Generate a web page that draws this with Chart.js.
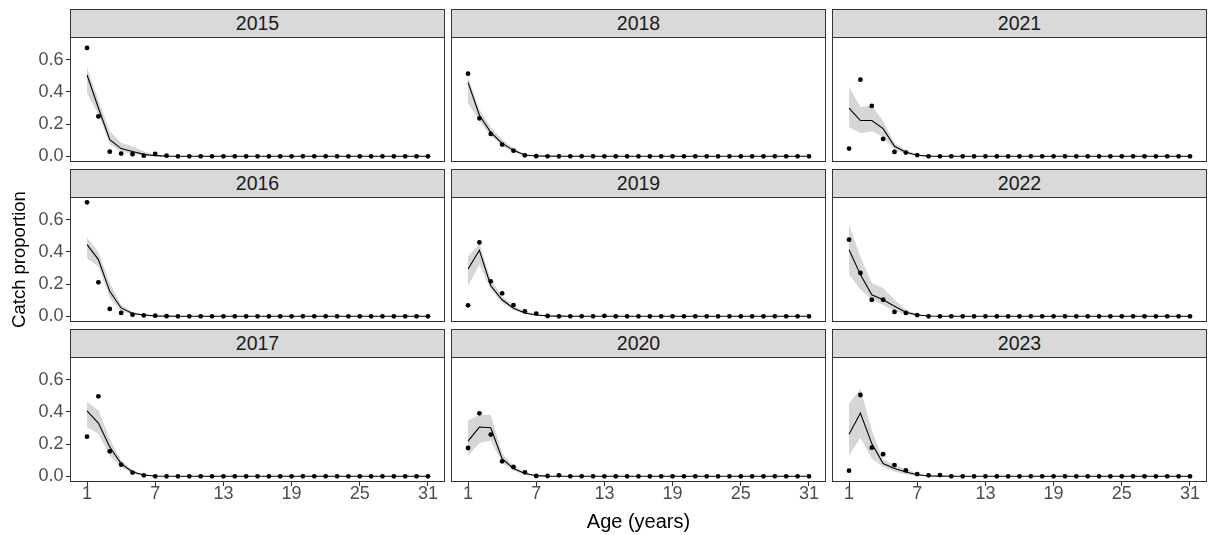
<!DOCTYPE html>
<html><head><meta charset="utf-8">
<script src="https://cdn.jsdelivr.net/npm/chart.js@4/dist/chart.umd.min.js"></script>
<style>
html,body{margin:0;padding:0;background:#fff;width:1208px;height:535px;overflow:hidden;}
#wrap{position:relative;width:1208px;height:535px;font-family:"Liberation Sans",Arial,sans-serif;}
.strip{position:absolute;box-sizing:border-box;border:1px solid #333;background:#d9d9d9;color:#1a1a1a;font-size:19.5px;text-align:center;line-height:27px;}
canvas{position:absolute;}
</style></head><body><div id="wrap"></div>
<script>
// ---------- data ----------
const ages = [1,2,3,4,5,6,7,8,9,10,11,12,13,14,15,16,17,18,19,20,21,22,23,24,25,26,27,28,29,30,31];
const xTicks = [1,7,13,19,25,31];
const yTicks = [0,0.2,0.4,0.6];
const years = ['2015','2018','2021','2016','2019','2022','2017','2020','2023'];

const obs2015 = [0.673,0.248,0.029,0.017,0.013,0.004,0.015,0.004,0,0, 0,0,0,0,0, 0,0,0,0,0, 0,0,0,0,0, 0,0,0,0,0, 0];
const fit2015 = [0.505,0.300,0.104,0.048,0.030,0.012,0.004,0.001,0,0, 0,0,0,0,0, 0,0,0,0,0, 0,0,0,0,0, 0,0,0,0,0, 0];
const lo2015  = [0.390,0.260,0.075,0.028,0.015,0.005,0.001,0,0,0, 0,0,0,0,0, 0,0,0,0,0, 0,0,0,0,0, 0,0,0,0,0, 0];
const hi2015  = [0.553,0.350,0.155,0.085,0.062,0.030,0.010,0.003,0.001,0, 0,0,0,0,0, 0,0,0,0,0, 0,0,0,0,0, 0,0,0,0,0, 0];

const obs2018 = [0.513,0.236,0.139,0.073,0.035,0.006,0.001,0,0,0, 0,0,0,0,0, 0,0,0,0,0, 0,0,0,0,0, 0,0,0,0,0, 0];
const fit2018 = [0.459,0.255,0.149,0.080,0.037,0.008,0.002,0.001,0,0, 0,0,0,0,0, 0,0,0,0,0, 0,0,0,0,0, 0,0,0,0,0, 0];
const lo2018  = [0.330,0.220,0.125,0.065,0.025,0.004,0.001,0,0,0, 0,0,0,0,0, 0,0,0,0,0, 0,0,0,0,0, 0,0,0,0,0, 0];
const hi2018  = [0.490,0.290,0.180,0.105,0.050,0.012,0.003,0.001,0,0, 0,0,0,0,0, 0,0,0,0,0, 0,0,0,0,0, 0,0,0,0,0, 0];

const obs2021 = [0.048,0.476,0.313,0.108,0.027,0.023,0.008,0,0,0, 0,0,0,0,0, 0,0,0,0,0, 0,0,0,0,0, 0,0,0,0,0, 0];
const fit2021 = [0.300,0.222,0.222,0.172,0.062,0.025,0.007,0.001,0,0, 0,0,0,0,0, 0,0,0,0,0, 0,0,0,0,0, 0,0,0,0,0, 0];
const lo2021  = [0.180,0.145,0.155,0.120,0.041,0.015,0.003,0.001,0,0, 0,0,0,0,0, 0,0,0,0,0, 0,0,0,0,0, 0,0,0,0,0, 0];
const hi2021  = [0.434,0.306,0.316,0.217,0.083,0.040,0.012,0.003,0.001,0, 0,0,0,0,0, 0,0,0,0,0, 0,0,0,0,0, 0,0,0,0,0, 0];

const obs2016 = [0.708,0.211,0.046,0.021,0.010,0.006,0.004,0.001,0,0, 0,0,0,0,0, 0,0,0,0,0, 0,0,0,0,0, 0,0,0,0,0, 0];
const fit2016 = [0.445,0.352,0.155,0.052,0.017,0.008,0.003,0.001,0,0, 0,0,0,0,0, 0,0,0,0,0, 0,0,0,0,0, 0,0,0,0,0, 0];
const lo2016  = [0.360,0.310,0.114,0.031,0.010,0.004,0.001,0,0,0, 0,0,0,0,0, 0,0,0,0,0, 0,0,0,0,0, 0,0,0,0,0, 0];
const hi2016  = [0.490,0.400,0.207,0.072,0.028,0.012,0.005,0.001,0,0, 0,0,0,0,0, 0,0,0,0,0, 0,0,0,0,0, 0,0,0,0,0, 0];

const obs2019 = [0.068,0.459,0.217,0.143,0.070,0.031,0.017,0.002,0,0, 0,0,0.003,0,0, 0,0,0,0,0, 0,0,0,0,0, 0,0,0,0,0, 0];
const fit2019 = [0.294,0.410,0.190,0.103,0.050,0.021,0.008,0.003,0.001,0, 0,0,0,0,0, 0,0,0,0,0, 0,0,0,0,0, 0,0,0,0,0, 0];
const lo2019  = [0.190,0.320,0.166,0.085,0.040,0.015,0.005,0.001,0,0, 0,0,0,0,0, 0,0,0,0,0, 0,0,0,0,0, 0,0,0,0,0, 0];
const hi2019  = [0.372,0.451,0.228,0.125,0.065,0.030,0.012,0.004,0.001,0, 0,0,0,0,0, 0,0,0,0,0, 0,0,0,0,0, 0,0,0,0,0, 0];

const obs2022 = [0.476,0.269,0.103,0.103,0.027,0.021,0.008,0,0,0, 0,0,0,0,0, 0,0,0,0,0, 0,0,0,0,0, 0,0,0,0,0, 0];
const fit2022 = [0.414,0.259,0.134,0.103,0.062,0.025,0.008,0.002,0,0, 0,0,0,0,0, 0,0,0,0,0, 0,0,0,0,0, 0,0,0,0,0, 0];
const lo2022  = [0.259,0.166,0.103,0.072,0.031,0.012,0.003,0.001,0,0, 0,0,0,0,0, 0,0,0,0,0, 0,0,0,0,0, 0,0,0,0,0, 0];
const hi2022  = [0.569,0.372,0.207,0.176,0.103,0.041,0.015,0.004,0.001,0, 0,0,0,0,0, 0,0,0,0,0, 0,0,0,0,0, 0,0,0,0,0, 0];

const obs2017 = [0.246,0.497,0.155,0.072,0.023,0.006,0,0,0,0, 0,0,0,0,0, 0,0,0,0,0, 0,0,0,0,0, 0,0,0,0,0, 0];
const fit2017 = [0.406,0.331,0.182,0.079,0.027,0.008,0.002,0,0,0, 0,0,0,0,0, 0,0,0,0,0, 0,0,0,0,0, 0,0,0,0,0, 0];
const lo2017  = [0.306,0.265,0.130,0.058,0.018,0.004,0.001,0,0,0, 0,0,0,0,0, 0,0,0,0,0, 0,0,0,0,0, 0,0,0,0,0, 0];
const hi2017  = [0.461,0.410,0.234,0.100,0.040,0.013,0.003,0.001,0,0, 0,0,0,0,0, 0,0,0,0,0, 0,0,0,0,0, 0,0,0,0,0, 0];

const obs2020 = [0.176,0.391,0.259,0.093,0.058,0.025,0.002,0.002,0.006,0, 0,0,0,0,0, 0,0,0,0,0, 0,0,0,0,0, 0,0,0,0,0, 0];
const fit2020 = [0.219,0.306,0.302,0.110,0.048,0.017,0.004,0.001,0,0, 0,0,0,0,0, 0,0,0,0,0, 0,0,0,0,0, 0,0,0,0,0, 0];
const lo2020  = [0.130,0.207,0.223,0.083,0.035,0.010,0.002,0,0,0, 0,0,0,0,0, 0,0,0,0,0, 0,0,0,0,0, 0,0,0,0,0, 0];
const hi2020  = [0.348,0.379,0.383,0.141,0.065,0.025,0.007,0.002,0,0, 0,0,0,0,0, 0,0,0,0,0, 0,0,0,0,0, 0,0,0,0,0, 0];

const obs2023 = [0.035,0.505,0.178,0.137,0.070,0.037,0.014,0.006,0.008,0, 0,0,0,0,0, 0,0,0,0,0, 0,0,0,0,0, 0,0,0,0,0, 0];
const fit2023 = [0.261,0.393,0.203,0.079,0.048,0.027,0.010,0.002,0.001,0, 0,0,0,0,0, 0,0,0,0,0, 0,0,0,0,0, 0,0,0,0,0, 0];
const lo2023  = [0.130,0.240,0.110,0.058,0.030,0.012,0.004,0.001,0,0, 0,0,0,0,0, 0,0,0,0,0, 0,0,0,0,0, 0,0,0,0,0, 0];
const hi2023  = [0.451,0.544,0.286,0.103,0.070,0.045,0.018,0.005,0.001,0, 0,0,0,0,0, 0,0,0,0,0, 0,0,0,0,0, 0,0,0,0,0, 0];

const series = {
  '2015':[obs2015,fit2015,lo2015,hi2015], '2018':[obs2018,fit2018,lo2018,hi2018], '2021':[obs2021,fit2021,lo2021,hi2021],
  '2016':[obs2016,fit2016,lo2016,hi2016], '2019':[obs2019,fit2019,lo2019,hi2019], '2022':[obs2022,fit2022,lo2022,hi2022],
  '2017':[obs2017,fit2017,lo2017,hi2017], '2020':[obs2020,fit2020,lo2020,hi2020], '2023':[obs2023,fit2023,lo2023,hi2023]
};

// ---------- layout ----------
const FONT = '"Liberation Sans", Arial, sans-serif';
Chart.defaults.font.family = FONT;
const colLeft = [70, 451, 832];
const rowTop = [37, 197, 357];
const PW = 375, PH = 125, SH = 28, H = 535, PADV = 16;
const Y_MIN = -0.0353, Y_MAX = 0.741;

const panelBorder = {
  id: 'panelBorder',
  afterDraw(chart) {
    const a = chart.chartArea, ctx = chart.ctx;
    ctx.save();
    ctx.strokeStyle = '#333333'; ctx.lineWidth = 1;
    ctx.strokeRect(Math.round(a.left) + 0.5, Math.round(a.top) + 0.5,
                   Math.round(a.right - a.left) - 1, Math.round(a.bottom - a.top) - 1);
    ctx.restore();
  }
};

const wrap = document.getElementById('wrap');
const pts = arr => ages.map((a, i) => ({x: a, y: arr[i]}));

years.forEach((yr, idx) => {
  const r = Math.floor(idx / 3), c = idx % 3;
  const [obs, fit, lo, hi] = series[yr];

  const cv = document.createElement('canvas');
  const left = c === 0 ? 0 : colLeft[c];
  const width = c === 0 ? colLeft[0] + PW : PW;
  const top = rowTop[r] - PADV;
  const height = r === 2 ? H - top : PH + 2 * PADV;
  cv.width = width; cv.height = height;
  cv.style.left = left + 'px'; cv.style.top = top + 'px';
  cv.style.width = width + 'px'; cv.style.height = height + 'px';
  wrap.appendChild(cv);

  const strip = document.createElement('div');
  strip.className = 'strip';
  strip.style.left = colLeft[c] + 'px';
  strip.style.top = (rowTop[r] - SH) + 'px';
  strip.style.width = PW + 'px';
  strip.style.height = (SH + 1) + 'px';
  strip.textContent = yr;
  wrap.appendChild(strip);

  new Chart(cv, {
    type: 'line',
    data: {
      datasets: [
        {label: 'upper', data: pts(hi), borderWidth: 0, pointRadius: 0, fill: false, order: 3},
        {label: 'lower', data: pts(lo), borderWidth: 0, pointRadius: 0, fill: '-1',
         backgroundColor: 'rgba(51,51,51,0.2)', order: 2},
        {label: 'fit', data: pts(fit), borderColor: '#000', borderWidth: 1.1, pointRadius: 0,
         fill: false, tension: 0, order: 1},
        {label: 'obs', data: pts(obs), showLine: false, pointRadius: 2.4, pointBorderWidth: 0,
         pointBackgroundColor: '#000', borderColor: '#000', order: 0}
      ]
    },
    options: {
      responsive: false, animation: false, events: [],
      layout: {autoPadding: false, padding: {top: PADV, left: 0, right: 0, bottom: r === 2 ? 0 : PADV}},
      plugins: {legend: {display: false}, tooltip: {enabled: false},
                filler: {propagate: false, drawTime: 'beforeDatasetsDraw'}},
      scales: {
        x: {
          type: 'linear', min: -0.5, max: 32.5,
          display: r === 2,
          afterBuildTicks: s => { s.ticks = xTicks.map(v => ({value: v})); },
          afterFit: s => { if (r === 2) s.height = H - rowTop[2] - PH; s.paddingLeft = 0; s.paddingRight = 0; },
          grid: {display: true, drawOnChartArea: false, drawTicks: true, tickLength: 4, color: '#333333'},
          border: {display: false},
          ticks: {display: r === 2, autoSkip: false, maxRotation: 0, padding: -1, color: '#4d4d4d',
                  font: {size: 18, lineHeight: 1, family: FONT}, callback: v => String(v)},
          title: {display: idx === 7, text: 'Age (years)', color: '#000',
                  font: {size: 20, family: FONT, lineHeight: 1.2}, padding: {top: 0, bottom: 1}}
        },
        y: {
          type: 'linear', min: Y_MIN, max: Y_MAX,
          display: c === 0,
          afterBuildTicks: s => { s.ticks = yTicks.map(v => ({value: v})); },
          afterFit: s => { if (c === 0) s.width = colLeft[0]; s.paddingTop = 0; s.paddingBottom = 0; },
          grid: {display: true, drawOnChartArea: false, drawTicks: true, tickLength: 4, color: '#333333'},
          border: {display: false},
          ticks: {display: c === 0, padding: 2.5, color: '#4d4d4d',
                  font: {size: 18, family: FONT}, callback: v => Number(v).toFixed(1)},
          title: {display: idx === 3, text: 'Catch proportion', color: '#000',
                  font: {size: 18.5, family: FONT, lineHeight: 1.2}, padding: {top: 8.5, bottom: 0}}
        }
      }
    },
    plugins: [panelBorder]
  });
});
</script></body></html>
